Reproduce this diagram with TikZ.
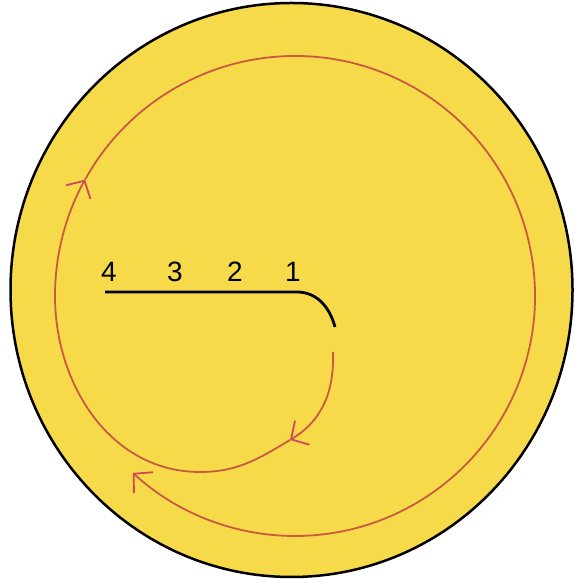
\documentclass[tikz,border=0pt]{standalone}
\usepackage{fontspec}
\setmainfont{Liberation Sans}
\usetikzlibrary{arrows.meta}
\definecolor{DiscYellow}{HTML}{F7DA4A}
\definecolor{PathRed}{HTML}{C85A40}
\definecolor{TipPink}{HTML}{D2455E}

\begin{document}
\begin{tikzpicture}[x=1pt,y=1pt,font=\fontsize{28}{30}\selectfont,
    flow/.style={PathRed,line width=1.8pt,-{Straight Barb[length=13pt,width=28pt,color=TipPink]}}]
        \useasboundingbox (0,0) rectangle (574,580);
        \fill[DiscYellow] (291.5,290) ellipse[x radius=281,y radius=287];
        \draw[line width=2.5pt] (291.5,290) ellipse[x radius=281,y radius=287];
        \coordinate (s) at (333,228);
        \coordinate (a1) at (290,140);
        \coordinate (low) at (200,108);
        \coordinate (w) at (55,284);
        \coordinate (a2) at ([shift={(295,284)}]151:240);
        \draw[flow] (s) to[out=-88,in=31] (a1);
        \draw[flow] (a1) to[out=211,in=0] (low) to[out=180,in=-90] (w) arc[start angle=180,end angle=151,radius=240];
        \draw[flow] (a2) arc[start angle=151,end angle=-132.5,radius=240];
        \draw[line width=2.8pt] (105,288) -- (297,288) to[out=0,in=105] (335,253);
        \node (n4) at (109,308) {4};
        \node (n3) at (175,308) {3};
        \node (n2) at (235,308) {2};
        \node (n1) at (293,308) {1};
      \end{tikzpicture}
\end{document}
